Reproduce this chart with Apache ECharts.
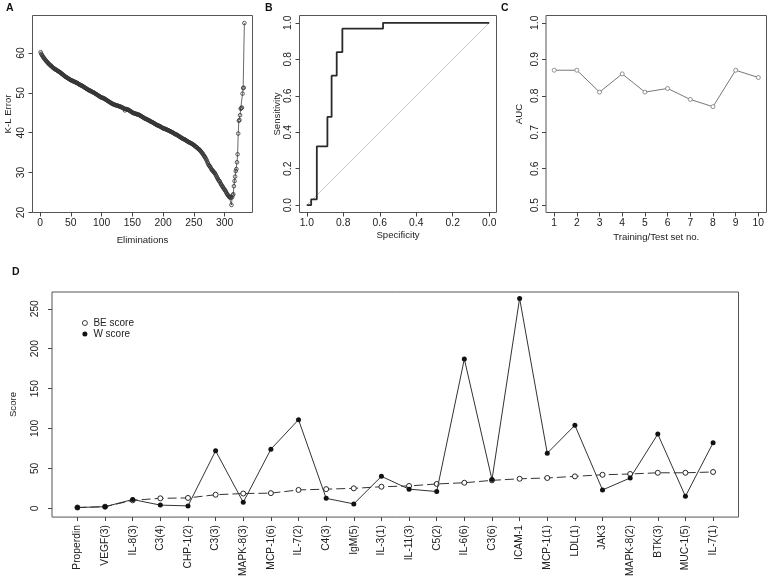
<!DOCTYPE html>
<html><head><meta charset="utf-8">
<script src="https://cdn.jsdelivr.net/npm/echarts@6/dist/echarts.min.js"></script>
<style>html,body{margin:0;padding:0;background:#fff}#c{width:770px;height:579px}</style>
</head><body><div id="c"></div>
<script>
// ---- Panel A: K-L error vs eliminations ----
const klError = [
60.2,59.8,59.5,59.3,59.0,58.8,58.6,58.4,58.2,58.0,
57.8,57.7,57.5,57.3,57.2,57.0,56.9,56.8,56.6,56.5,
56.3,56.2,56.1,56.0,55.9,55.8,55.7,55.6,55.5,55.4,
55.3,55.2,55.1,55.0,54.8,54.7,54.6,54.5,54.3,54.2,
54.1,54.0,53.9,53.8,53.7,53.6,53.5,53.4,53.3,53.2,
53.1,53.1,53.0,52.9,52.9,52.8,52.7,52.6,52.6,52.5,
52.4,52.3,52.2,52.1,52.0,51.9,51.9,51.8,51.7,51.6,
51.5,51.4,51.3,51.2,51.1,51.0,50.9,50.8,50.7,50.6,
50.6,50.5,50.4,50.3,50.2,50.2,50.1,50.0,49.9,49.8,
49.7,49.6,49.5,49.4,49.3,49.2,49.1,49.0,48.9,48.8,
48.8,48.7,48.7,48.6,48.5,48.4,48.3,48.2,48.1,48.0,
47.9,47.8,47.7,47.6,47.5,47.4,47.3,47.2,47.2,47.1,
47.0,47.0,46.9,46.9,46.8,46.8,46.7,46.7,46.6,46.6,
46.5,46.4,46.4,46.3,46.2,46.1,46.0,45.6,46.0,45.9,
45.9,45.8,45.8,45.7,45.6,45.5,45.4,45.3,45.2,45.1,
45.0,44.9,44.9,44.8,44.8,44.7,44.7,44.6,44.6,44.5,
44.5,44.4,44.3,44.2,44.1,44.0,43.9,43.8,43.7,43.6,
43.5,43.5,43.4,43.3,43.2,43.2,43.1,43.0,42.9,42.8,
42.7,42.7,42.6,42.5,42.4,42.3,42.2,42.1,42.0,41.9,
41.9,41.8,41.7,41.7,41.6,41.5,41.4,41.3,41.2,41.1,
41.1,41.0,41.0,40.9,40.8,40.8,40.7,40.6,40.6,40.5,
40.4,40.3,40.2,40.2,40.1,40.0,39.9,39.8,39.7,39.6,
39.6,39.5,39.4,39.3,39.2,39.1,39.0,38.9,38.8,38.7,
38.6,38.5,38.4,38.4,38.3,38.2,38.1,38.0,37.9,37.8,
37.7,37.6,37.5,37.5,37.4,37.3,37.2,37.1,37.0,36.9,
36.8,36.6,36.5,36.4,36.3,36.1,36.0,35.9,35.7,35.6,
35.4,35.2,35.0,34.8,34.6,34.3,34.1,33.9,33.6,33.3,
33.0,32.6,32.3,31.9,31.7,31.6,31.3,31.0,30.7,30.6,
30.4,30.2,30.0,29.9,29.6,29.3,29.0,28.7,28.4,28.1,
27.9,27.8,27.4,27.1,26.9,26.6,26.4,26.1,25.9,25.7,
25.5,25.2,24.9,24.6,24.4,24.2,24.0,23.8,23.9,23.7,
21.9,23.8,24.3,24.6,26.6,27.9,29.0,30.4,30.9,32.6,
34.6,39.8,43.0,43.2,44.4,46.0,46.2,46.3,49.8,51.2,51.3,67.5
];
const elimTicks = [0, 50, 100, 150, 200, 250, 300];
const klTicks = [20, 30, 40, 50, 60];

// ---- Panel B: ROC curve ----
const rocSpecificity = [1.0, 0.976, 0.945, 0.887, 0.864, 0.836, 0.805, 0.582, 0.0];
const rocSensitivity = [0.0, 0.032, 0.323, 0.484, 0.710, 0.839, 0.968, 1.0, 1.0];
const chanceSpecificity = [1.0, 0.0];
const chanceSensitivity = [0.0, 1.0];
const rocTicks = [0, 0.2, 0.4, 0.6, 0.8, 1.0];

// ---- Panel C: AUC per training/test set ----
const setNumbers = [1, 2, 3, 4, 5, 6, 7, 8, 9, 10];
const aucValues = [0.87, 0.87, 0.81, 0.86, 0.81, 0.82, 0.79, 0.77, 0.87, 0.85];
const aucTicks = [0.5, 0.6, 0.7, 0.8, 0.9, 1.0];

// ---- Panel D: scores per marker ----
const markers = ['Properdin','VEGF(3)','IL-8(3)','C3(4)','CHP-1(2)','C3(3)','MAPK-8(3)','MCP-1(6)','IL-7(2)','C4(3)','IgM(5)','IL-3(1)','IL-11(3)','C5(2)','IL-6(6)','C3(6)','ICAM-1','MCP-1(1)','LDL(1)','JAK3','MAPK-8(2)','BTK(3)','MUC-1(5)','IL-7(1)'];
const beScores = [1, 2, 10, 12.5, 13, 17, 18.5, 19, 23, 24, 25, 27, 28, 30.5, 32, 35, 37, 38, 40, 42, 43, 44.5, 44.5, 45.5];
const wScores = [1, 2, 11, 4, 3, 72, 7.5, 74, 111, 12.5, 5.5, 40, 24, 21, 187, 36, 263, 69, 104, 23, 38, 93, 15, 82];
const scoreTicks = [0, 50, 100, 150, 200, 250];

const FONT = 'Liberation Sans, Arial, sans-serif';
const TXT = '#222';
const tickFont = 10.3, titleFont = 9.6;

function axisCfg(o, isY) {
  const cfg = {
    type: 'value', splitLine: {show: false},
    axisLine: {show: false, onZero: false},
    axisTick: {show: true, length: 4, inside: false, customValues: o.ticks, lineStyle: {color: '#444'}},
    axisLabel: {customValues: o.ticks, fontSize: tickFont, fontFamily: FONT, color: TXT, margin: o.margin || 6, formatter: o.fmt, rotate: o.rotate || 0},
    nameLocation: 'middle', nameTextStyle: {fontSize: titleFont, fontFamily: FONT, color: TXT}
  };
  if (isY) cfg.nameRotate = 90;
  return Object.assign(cfg, o.extra);
}
const f1 = v => Number(v).toFixed(1);
const f0 = v => String(Math.round(v));

const chart = echarts.init(document.getElementById('c'), null, {renderer: 'canvas'});
const gridStyle = {show: true, borderColor: '#555', borderWidth: 1, backgroundColor: 'transparent', containLabel: false};
const letterStyle = {fontSize: 10.5, fontWeight: 'bold', fontFamily: FONT, color: '#111'};

chart.setOption({
  animation: false,
  backgroundColor: '#fff',
  title: [
    {text: 'A', left: 6, top: 3, padding: 0, textStyle: letterStyle},
    {text: 'B', left: 265, top: 3, padding: 0, textStyle: letterStyle},
    {text: 'C', left: 501, top: 3, padding: 0, textStyle: letterStyle},
    {text: 'D', left: 12, top: 267, padding: 0, textStyle: letterStyle}
  ],
  legend: {
    orient: 'vertical', left: 82, top: 318, itemWidth: 5, itemHeight: 5, itemGap: 1, padding: 0,
    textStyle: {fontSize: 10, fontFamily: FONT, color: TXT, padding: [0, 0, 0, 1]},
    data: [
      {name: 'BE score', icon: 'circle', itemStyle: {color: '#fff', borderColor: '#111', borderWidth: 0.8}},
      {name: 'W score', icon: 'circle', itemStyle: {color: '#111', borderWidth: 0}}
    ]
  },
  grid: [
    Object.assign({left: 32.5, top: 15.5, width: 220, height: 197}, gridStyle),
    Object.assign({left: 299.5, top: 15.5, width: 197, height: 197}, gridStyle),
    Object.assign({left: 546, top: 15.5, width: 220.5, height: 197}, gridStyle),
    Object.assign({left: 50.5, top: 292, width: 688, height: 226.3}, gridStyle)
  ],
  xAxis: [
    axisCfg({ticks: elimTicks, fmt: f0, extra: {gridIndex: 0, min: -12.2, max: 345.2, name: 'Eliminations', nameGap: 23}}),
    axisCfg({ticks: rocTicks, fmt: f1, extra: {gridIndex: 1, min: -0.04, max: 1.04, inverse: true, name: 'Specificity', nameGap: 18}}),
    axisCfg({ticks: setNumbers, fmt: f0, extra: {gridIndex: 2, min: 0.64, max: 10.36, name: 'Training/Test set no.', nameGap: 20}}),
    axisCfg({ticks: markers.map((m, i) => i), fmt: v => markers[Math.round(v)], rotate: 90, margin: 8, extra: {gridIndex: 3, min: -0.92, max: 23.92}})
  ],
  yAxis: [
    axisCfg({ticks: klTicks, fmt: f0, rotate: 90, extra: {gridIndex: 0, min: 20, max: 69.4, name: 'K-L Error', nameGap: 19}}, true),
    axisCfg({ticks: rocTicks, fmt: f1, rotate: 90, extra: {gridIndex: 1, min: -0.04, max: 1.04, name: 'Sensitivity', nameGap: 16}}, true),
    axisCfg({ticks: aucTicks, fmt: f1, rotate: 90, extra: {gridIndex: 2, min: 0.48, max: 1.02, name: 'AUC', nameGap: 22}}, true),
    axisCfg({ticks: scoreTicks, fmt: f0, rotate: 90, margin: 12, extra: {gridIndex: 3, min: -11, max: 271, name: 'Score', nameGap: 34}}, true)
  ],
  series: [
    {
      name: 'K-L Error', type: 'line', xAxisIndex: 0, yAxisIndex: 0,
      data: klError.map((v, i) => [i + 1, v]),
      symbol: 'circle', symbolSize: 3.6, showAllSymbol: true,
      itemStyle: {color: 'rgba(0,0,0,0)', borderColor: '#333', borderWidth: 0.8},
      lineStyle: {color: '#444', width: 0.8}, emphasis: {disabled: true}, z: 3
    },
    {
      name: 'Chance', type: 'line', xAxisIndex: 1, yAxisIndex: 1,
      data: chanceSpecificity.map((s, i) => [s, chanceSensitivity[i]]),
      symbol: 'none', lineStyle: {color: '#c8c8c8', width: 1}, emphasis: {disabled: true}, z: 2
    },
    {
      name: 'ROC', type: 'line', xAxisIndex: 1, yAxisIndex: 1, step: 'end',
      data: rocSpecificity.map((s, i) => [s, rocSensitivity[i]]),
      symbol: 'none', lineStyle: {color: '#2a2a2a', width: 1.8}, emphasis: {disabled: true}, z: 3
    },
    {
      name: 'AUC', type: 'line', xAxisIndex: 2, yAxisIndex: 2,
      data: setNumbers.map((n, i) => [n, aucValues[i]]),
      symbol: 'circle', symbolSize: 4,
      itemStyle: {color: '#fff', borderColor: '#777', borderWidth: 0.8},
      lineStyle: {color: '#777', width: 1}, emphasis: {disabled: true}
    },
    {
      name: 'BE score', type: 'line', xAxisIndex: 3, yAxisIndex: 3,
      data: markers.map((m, i) => [i, beScores[i]]),
      symbol: 'circle', symbolSize: 5,
      itemStyle: {color: '#fff', borderColor: '#111', borderWidth: 0.9},
      lineStyle: {color: '#333', width: 1, type: [9, 4]}, emphasis: {disabled: true}, z: 3
    },
    {
      name: 'W score', type: 'line', xAxisIndex: 3, yAxisIndex: 3,
      data: markers.map((m, i) => [i, wScores[i]]),
      symbol: 'circle', symbolSize: 5,
      itemStyle: {color: '#111'},
      lineStyle: {color: '#333', width: 1}, emphasis: {disabled: true}, z: 4
    }
  ]
});
</script>
</body></html>
